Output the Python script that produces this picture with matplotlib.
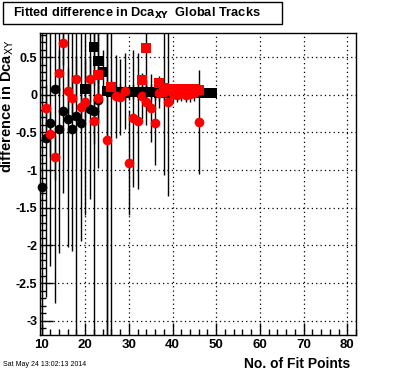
import matplotlib
matplotlib.use("Agg")
import matplotlib.pyplot as plt
import numpy as np
from matplotlib.ticker import MultipleLocator
from matplotlib.patches import Rectangle

plt.rcParams['font.family'] = ['Liberation Sans', 'DejaVu Sans']

# Black circles
bc_x = [10, 11, 12, 13, 14, 15, 16, 17, 18, 19, 21, 22, 23]
bc_y = [-1.22, -0.58, -0.38, 0.08, -0.45, -0.21, -0.32, -0.45, -0.28, -0.37, -0.19, -0.21, -0.07]
bc_e = [2.4, 2.1, 1.9, 2.85, 1.65, 1.1, 1.7, 1.62, 3.3, 1.57, 1.2, 3.2, 0.9]

# Black squares
bs_x = [20, 22, 23, 24, 25, 26, 27, 28, 29, 30, 31, 32, 33, 34, 35, 36, 37, 38, 39, 40,
        41, 42, 43, 44, 45, 46, 47, 48, 49]
bs_y = [0.07, 0.63, 0.45, 0.30, 0.05, 0.04, 0.03, 0.04, 0.02, 0.03, 0.04, 0.03, 0.02, 0.03,
        0.04, 0.03, 0.02, 0.03, 0.02, 0.03, 0.02, 0.02, 0.03, 0.02, 0.02, 0.03, 0.02, 0.02, 0.02]
bs_e = [0.4, 0.5, 0.6, 0.3, 3.5, 3.5, 0.1, 0.1, 0.1, 0.1, 0.1, 0.1, 0.1, 0.1,
        0.1, 0.1, 0.1, 0.1, 0.1, 0.05, 0.05, 0.05, 0.05, 0.05, 0.05, 0.05, 0.05, 0.05, 0.05]

# Red circles
rc_x = [11, 12, 13, 14, 15, 16, 17, 18, 19, 20, 21, 22, 23, 25, 27, 28, 29, 30, 31, 32,
        33, 34, 35, 36, 37, 38, 39, 40, 41, 42, 43, 44, 45, 46]
rc_y = [-0.17, -0.52, -0.83, 0.29, 0.69, 0.05, -0.04, 0.21, -0.16, -0.10, 0.21, -0.35, -0.04,
        -0.60, -0.02, -0.03, 0.05, -0.90, -0.31, -0.35, -0.02, -0.10, -0.18, -0.38, 0.02,
        0.03, -0.10, 0.01, 0.0, 0.02, 0.0, 0.01, 0.02, -0.36]
rc_e = [0.3, 0.3, 0.3, 0.3, 0.3, 0.3, 0.3, 0.3, 0.3, 1.5, 0.3, 0.3, 0.3,
        3.0, 0.55, 0.5, 0.5, 0.7, 0.91, 0.9, 0.3, 0.3, 0.45, 0.55, 0.2,
        1.1, 1.25, 0.1, 0.1, 0.1, 0.1, 0.1, 0.1, 0.69]

# Red squares
rs_x = [23, 26, 33, 34, 37, 38, 39, 40, 41, 42, 43, 44, 45, 46]
rs_y = [0.26, 0.10, 0.19, 0.62, 0.15, 0.09, 0.08, 0.07, 0.08, 0.07, 0.08, 0.07, 0.08, 0.06]
rs_e = [0.1, 0.1, 0.1, 0.65, 0.1, 0.05, 0.05, 0.05, 0.05, 0.05, 0.05, 0.05, 0.05, 0.05]

W, H = 396, 372
fig = plt.figure(figsize=(W / 100, H / 100), dpi=100)
ax = fig.add_axes([40 / W, 1 - 335 / H, 316 / W, 302 / H])

ms = 7.0
def draw(x, y, e, marker, color, z):
    ax.errorbar(x, y, yerr=e, fmt='none', ecolor='black', elinewidth=1.0, capsize=0, zorder=z)
    ax.plot(x, y, linestyle='none', marker=marker, markersize=ms, color=color,
            markeredgewidth=0, zorder=z + 0.5, clip_on=False)

draw(bc_x, bc_y, bc_e, 'o', 'black', 2)
draw(bs_x, bs_y, bs_e, 's', 'black', 3)
draw(rc_x, rc_y, rc_e, 'o', 'red', 4)
draw(rs_x, rs_y, rs_e, 's', 'red', 5)

ax.set_xlim(9.65, 82.0)
ax.set_ylim(-3.19, 0.82)
ax.xaxis.set_major_locator(MultipleLocator(10))
ax.xaxis.set_minor_locator(MultipleLocator(2))
ax.yaxis.set_major_locator(MultipleLocator(0.5))
ax.yaxis.set_minor_locator(MultipleLocator(0.1))
ax.tick_params(which='both', direction='in', top=False, right=False, colors='black')
ax.tick_params(which='major', length=9, width=1)
ax.tick_params(which='minor', length=4.5, width=1)
ax.tick_params(axis='x', which='major', labelsize=9.5, pad=3)
ax.tick_params(axis='y', which='major', labelsize=9, pad=2)
ax.yaxis.set_major_formatter(matplotlib.ticker.FuncFormatter(lambda v, p: '%g' % v))
for lab in ax.get_xticklabels() + ax.get_yticklabels():
    lab.set_fontweight('bold')
ax.grid(True, which='major', linestyle=(0, (1, 2.5)), color='black', linewidth=0.9)
ax.set_axisbelow(True)
for s in ax.spines.values():
    s.set_linewidth(1.0)

fig.text(350 / W, 1 - 364 / H, 'No. of Fit Points', ha='right', va='center',
         fontsize=10, fontweight='bold')
fig.text(7.5 / W, 1 - 40 / H, r'difference in Dca$_{\rm XY}$', rotation=90, ha='center', va='top',
         fontsize=10.5, fontweight='bold')
fig.text(3 / W, 1 - 364 / H, 'Sat May 24 13:02:13 2014', ha='left', va='center', fontsize=5)

fig.patches.append(Rectangle((3 / W, 1 - 24 / H), 279 / W, 22 / H, transform=fig.transFigure,
                             facecolor='white', edgecolor='black', linewidth=1.0))
fig.text(13 / W, 1 - 13 / H, r'Fitted difference in Dca$_{\mathbf{XY}}$  Global Tracks', ha='left',
         va='center', fontsize=9.2, fontweight='bold')

fig.savefig('out.png', dpi=100)
